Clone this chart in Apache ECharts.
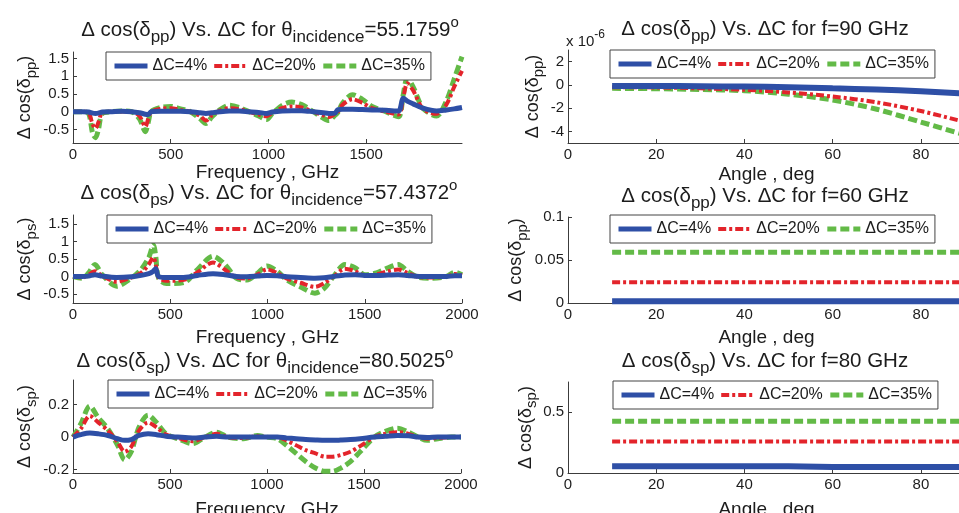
<!DOCTYPE html>
<html>
<head>
<meta charset="utf-8">
<script src="https://cdn.jsdelivr.net/npm/echarts@6/dist/echarts.min.js"></script>
<style>
html, body { margin: 0; background: #fff; }
#chart { width: 959px; height: 513px; }
</style>
</head>
<body>
<div id="chart"></div>
<script>
var legendNames = ['ΔC=4%', 'ΔC=20%', 'ΔC=35%'];

// left column: sweeps over frequency (GHz)
var freqPp = [0, 50, 80, 100, 115, 130, 150, 200, 250, 300, 340, 370, 385, 400, 450, 500, 550, 600, 650, 680,
    710, 750, 800, 850, 900, 950, 990, 1020, 1070, 1120, 1170, 1230, 1280, 1310, 1340, 1355, 1380, 1430, 1480, 1530,
    1600, 1665, 1690, 1710, 1740, 1790, 1860, 1910, 1950, 1990];
var ppC4 = [0, 0, -0.01, -0.04, -0.05, -0.04, -0.01, 0, 0.01, 0, -0.03, -0.07, -0.08, 0, 0.01, 0.01, 0.01, 0, -0.03, -0.05,
    -0.03, 0, 0.02, 0.02, 0, -0.02, -0.05, -0.01, 0.02, 0.03, 0.03, 0, -0.03, -0.05, -0.04, 0.06, 0.07, 0.07, 0.06, 0.05,
    0.04, 0.02, 0.38, 0.3, 0.22, 0.1, 0.02, 0.05, 0.08, 0.12];
var ppC20 = [0, 0, -0.03, -0.35, -0.47, -0.3, -0.03, 0, 0.01, 0, -0.12, -0.42, -0.2, 0, 0.08, 0.1, 0.05, 0, -0.12, -0.25,
    -0.1, 0.03, 0.1, 0.07, 0, -0.08, -0.13, -0.03, 0.1, 0.15, 0.12, 0, -0.1, -0.15, -0.06, 0, 0.2, 0.35, 0.25, 0.1,
    0, -0.08, 0.4, 0.8, 0.6, 0.08, -0.06, 0.2, 0.7, 1.15];
var ppC35 = [0, 0, -0.05, -0.6, -0.73, -0.5, -0.05, 0, 0.02, 0, -0.2, -0.56, -0.3, 0, 0.12, 0.15, 0.08, 0, -0.2, -0.33,
    -0.15, 0.05, 0.18, 0.12, 0, -0.12, -0.22, -0.05, 0.18, 0.27, 0.2, 0, -0.18, -0.25, -0.1, -0.02, 0.25, 0.48, 0.35, 0.15,
    0, -0.14, 0.5, 0.95, 0.7, 0.1, -0.12, 0.3, 0.92, 1.55];

var freqPs = [0, 50, 80, 113, 150, 225, 300, 350, 390, 413, 425, 440, 480, 515, 580, 640, 720, 780, 840, 894,
    950, 997, 1050, 1100, 1170, 1244, 1290, 1340, 1398, 1450, 1500, 1560, 1620, 1672, 1720, 1780, 1850, 1920, 1963, 2000];
var psC4 = [0, 0, 0.01, 0.05, 0.01, -0.03, -0.01, 0.03, 0.08, 0.15, 0.22, 0, -0.03, -0.03, -0.02, 0.03, 0.08, 0.05, 0, -0.01,
    0.01, 0.03, 0.02, -0.01, -0.03, -0.05, -0.04, 0, 0.04, 0.05, 0.03, 0.03, 0.04, 0.05, 0.03, 0, 0, 0, 0.02, 0.02];
var psC20 = [0, -0.03, 0.05, 0.15, 0.02, -0.15, -0.03, 0.1, 0.35, 0.55, 0.35, -0.03, -0.12, -0.12, -0.08, 0.12, 0.4, 0.2, -0.03, -0.06,
    0.06, 0.2, 0.1, -0.06, -0.18, -0.3, -0.2, 0, 0.22, 0.15, 0.03, 0.06, 0.15, 0.2, 0.1, -0.02, -0.03, 0, 0.07, 0.03];
var psC35 = [0, -0.05, 0.1, 0.34, 0.05, -0.28, -0.05, 0.2, 0.55, 0.9, 0.6, -0.05, -0.2, -0.2, -0.15, 0.2, 0.58, 0.35, -0.05, -0.1,
    0.1, 0.3, 0.15, -0.1, -0.3, -0.48, -0.35, 0, 0.34, 0.25, 0.05, 0.1, 0.25, 0.34, 0.15, -0.03, -0.05, 0, 0.12, 0.05];

var freqSp = [0, 40, 87, 130, 180, 230, 267, 300, 340, 387, 430, 480, 540, 617, 680, 740, 800, 880, 950, 1000,
    1054, 1100, 1150, 1200, 1250, 1300, 1337, 1380, 1430, 1480, 1553, 1610, 1672, 1730, 1780, 1826, 1880, 1950, 2000];
var spC4 = [0, 0.015, 0.025, 0.02, 0.01, -0.01, -0.02, -0.015, 0.01, 0.02, 0.015, 0.005, 0, -0.005, 0, 0.005, 0, 0, 0, 0,
    0, -0.005, -0.01, -0.015, -0.018, -0.02, -0.02, -0.018, -0.015, -0.01, 0, 0.005, 0.01, 0.008, 0, -0.003, 0, 0, 0];
var spC20 = [0, 0.05, 0.13, 0.09, 0.04, -0.03, -0.09, -0.06, 0.04, 0.09, 0.06, 0.015, -0.005, -0.025, 0, 0.02, 0, -0.005, 0.005, 0,
    0, -0.02, -0.05, -0.08, -0.1, -0.12, -0.12, -0.11, -0.09, -0.055, 0, 0.02, 0.03, 0.02, 0, -0.01, -0.005, 0, 0];
var spC35 = [0, 0.08, 0.19, 0.12, 0.05, -0.05, -0.14, -0.09, 0.06, 0.135, 0.09, 0.02, -0.01, -0.04, 0, 0.03, 0, -0.01, 0.01, 0,
    -0.01, -0.05, -0.1, -0.15, -0.19, -0.21, -0.21, -0.19, -0.15, -0.09, 0, 0.035, 0.055, 0.03, 0, -0.02, -0.01, 0, 0];

// right column: sweeps over angle (deg)
var angles = [10, 20, 30, 40, 50, 60, 70, 80, 90];
// f = 90 GHz, values in units of 1e-6
var f90C4 = [-0.1, -0.1, -0.12, -0.15, -0.2, -0.3, -0.4, -0.55, -0.75];
var f90C20 = [-0.2, -0.22, -0.3, -0.42, -0.65, -1.0, -1.5, -2.25, -3.2];
var f90C35 = [-0.3, -0.33, -0.4, -0.5, -0.8, -1.3, -2.1, -3.2, -4.3];
// f = 60 GHz
var f60C4 = [0.002, 0.002, 0.002, 0.002, 0.002, 0.002, 0.002, 0.002, 0.002];
var f60C20 = [0.024, 0.024, 0.024, 0.024, 0.024, 0.024, 0.024, 0.024, 0.024];
var f60C35 = [0.059, 0.059, 0.059, 0.059, 0.059, 0.059, 0.059, 0.059, 0.059];
// f = 80 GHz
var f80C4 = [0.055, 0.055, 0.055, 0.055, 0.055, 0.05, 0.05, 0.05, 0.05];
var f80C20 = [0.26, 0.26, 0.26, 0.26, 0.26, 0.26, 0.26, 0.26, 0.26];
var f80C35 = [0.426, 0.426, 0.426, 0.426, 0.426, 0.426, 0.426, 0.426, 0.426];

// tick labels
var freqTicks = [0, 500, 1000, 1500, 2000];
var freqTicksTop = [0, 500, 1000, 1500];
var angleTicks = [0, 20, 40, 60, 80];
var ppTicks = [-0.5, 0, 0.5, 1, 1.5];
var spTicks = [-0.2, 0, 0.2];
var f90Ticks = [-4, -2, 0, 2];
var f60Ticks = [0, 0.05, 0.1];
var f80Ticks = [0, 0.5];

var font = 'Liberation Sans, Arial, sans-serif';
var ink = '#1c1c1c';
var axisColor = '#3c3c3c';
var blue = '#2e4fa6', red = '#e3242b', green = '#63ba47';
var greenDash = [9, 4], redDash = [8, 3, 3, 3];

var panels = [
    {grid: {left: 73, top: 52, width: 389, height: 91}, xMin: 0, xMax: 1990, yMin: -0.88, yMax: 1.68,
        xTicks: freqTicksTop, yTicks: ppTicks, xName: 'Frequency , GHz', sub: 'pp', xGap: 20, yGap: 34,
        x: freqPp, lines: [ppC4, ppC20, ppC35], legend: [106, 52], blueWidth: 5, smooth: 0.3},
    {grid: {left: 73, top: 215, width: 389, height: 88}, xMin: 0, xMax: 2000, yMin: -0.76, yMax: 1.76,
        xTicks: freqTicks, yTicks: ppTicks, xName: 'Frequency , GHz', sub: 'ps', xGap: 25, yGap: 34,
        x: freqPs, lines: [psC4, psC20, psC35], legend: [107, 215], blueWidth: 5, smooth: 0.3},
    {grid: {left: 73, top: 380, width: 388, height: 93}, xMin: 0, xMax: 2000, yMin: -0.22, yMax: 0.35,
        xTicks: freqTicks, yTicks: spTicks, xName: 'Frequency , GHz', sub: 'sp', xGap: 27, yGap: 34,
        x: freqSp, lines: [spC4, spC20, spC35], legend: [108, 380], blueWidth: 5, smooth: 0.3},
    {grid: {left: 568, top: 50, width: 397, height: 93}, xMin: 0, xMax: 90, yMin: -5, yMax: 3,
        xTicks: angleTicks, yTicks: f90Ticks, xName: 'Angle , deg', sub: 'pp', xGap: 22, yGap: 20,
        x: angles, lines: [f90C4, f90C20, f90C35], legend: [610, 50], blueWidth: 6, smooth: 0.3},
    {grid: {left: 568, top: 217, width: 397, height: 86}, xMin: 0, xMax: 90, yMin: 0, yMax: 0.1,
        xTicks: angleTicks, yTicks: f60Ticks, xName: 'Angle , deg', sub: 'pp', xGap: 25, yGap: 38,
        x: angles, lines: [f60C4, f60C20, f60C35], legend: [610, 215], blueWidth: 6, smooth: false},
    {grid: {left: 568, top: 382, width: 397, height: 91}, xMin: 0, xMax: 90, yMin: 0, yMax: 0.75,
        xTicks: angleTicks, yTicks: f80Ticks, xName: 'Angle , deg', sub: 'sp', xGap: 27, yGap: 28,
        x: angles, lines: [f80C4, f80C20, f80C35], legend: [613, 381], blueWidth: 6, smooth: false}
];

var titles = [
    {x: 270, y: 30, text: '{t|Δ cos(δ}{sub|pp}{t|) Vs. ΔC for θ}{sub|incidence}{t|=55.1759}{sup|o}'},
    {x: 269, y: 193, text: '{t|Δ cos(δ}{sub|ps}{t|) Vs. ΔC for θ}{sub|incidence}{t|=57.4372}{sup|o}'},
    {x: 265, y: 361, text: '{t|Δ cos(δ}{sub|sp}{t|) Vs. ΔC for θ}{sub|incidence}{t|=80.5025}{sup|o}'},
    {x: 765, y: 29, text: '{t|Δ cos(δ}{sub|pp}{t|) Vs. ΔC for f=90 GHz}'},
    {x: 765, y: 196, text: '{t|Δ cos(δ}{sub|pp}{t|) Vs. ΔC for f=60 GHz}'},
    {x: 765, y: 361, text: '{t|Δ cos(δ}{sub|sp}{t|) Vs. ΔC for f=80 GHz}'}
];

var zrRich = {
    t: {fontSize: 20.5, fontFamily: font, fill: ink},
    sub: {fontSize: 17, fontFamily: font, fill: ink, padding: [14, 0, 0, 0]},
    sup: {fontSize: 15, fontFamily: font, fill: ink, padding: [0, 0, 15, 0]}
};
var nameRich = {
    t: {fontSize: 18, fontFamily: font, color: ink},
    sub: {fontSize: 15, fontFamily: font, color: ink, padding: [12, 0, 0, 0]}
};

function pairs(xs, ys) {
    return xs.map(function (x, i) { return [x, ys[i]]; });
}

function tickLabel(v) { return String(v); }

var option = {
    animation: false,
    backgroundColor: '#fff',
    textStyle: {fontFamily: font},
    grid: [], xAxis: [], yAxis: [], legend: [], series: [], graphic: []
};

panels.forEach(function (p, i) {
    var g = p.grid;
    g.outerBoundsMode = 'none';
    g.containLabel = false;
    option.grid.push(g);
    option.xAxis.push({
        type: 'value', gridIndex: i, min: p.xMin, max: p.xMax,
        axisLine: {show: true, onZero: false, lineStyle: {color: axisColor, width: 1}},
        axisTick: {show: true, inside: true, length: 4, customValues: p.xTicks, lineStyle: {color: axisColor}},
        axisLabel: {customValues: p.xTicks, formatter: tickLabel, fontSize: 15, color: ink, margin: 4},
        splitLine: {show: false},
        name: p.xName, nameLocation: 'middle', nameGap: p.xGap,
        nameTextStyle: {fontSize: 19, color: ink}
    });
    option.yAxis.push({
        type: 'value', gridIndex: i, min: p.yMin, max: p.yMax,
        axisLine: {show: true, onZero: false, lineStyle: {color: axisColor, width: 1}},
        axisTick: {show: true, inside: true, length: 4, customValues: p.yTicks, lineStyle: {color: axisColor}},
        axisLabel: {customValues: p.yTicks, formatter: tickLabel, fontSize: 15, color: ink, margin: 4},
        splitLine: {show: false},
        name: '{t|Δ cos(δ}{sub|' + p.sub + '}{t|)}', nameLocation: 'middle', nameGap: p.yGap, nameRotate: 90,
        nameTextStyle: {rich: nameRich}
    });
    option.legend.push({
        left: p.legend[0], top: p.legend[1], orient: 'horizontal',
        data: [
            {name: legendNames[0], lineStyle: {width: 5, color: blue, type: 'solid'}},
            {name: legendNames[1], lineStyle: {width: 4, color: red, type: redDash}},
            {name: legendNames[2], lineStyle: {width: 5, color: green, type: greenDash}}
        ],
        selectedMode: false, itemWidth: 33, itemHeight: 14, itemGap: 5, padding: [6, 6],
        backgroundColor: '#fff', borderColor: '#444', borderWidth: 1, borderRadius: 0,
        itemStyle: {opacity: 0},
        textStyle: {fontSize: 16, color: ink}
    });
    var styles = [
        {color: green, width: 5, type: greenDash, data: p.lines[2], name: legendNames[2], z: 2},
        {color: red, width: 4, type: redDash, data: p.lines[1], name: legendNames[1], z: 3},
        {color: blue, width: p.blueWidth, type: 'solid', data: p.lines[0], name: legendNames[0], z: 4}
    ];
    styles.forEach(function (s) {
        option.series.push({
            type: 'line', name: s.name, xAxisIndex: i, yAxisIndex: i, z: s.z,
            data: pairs(p.x, s.data), symbol: 'none', smooth: p.smooth,
            lineStyle: {color: s.color, width: s.width, type: s.type, cap: 'butt'},
            itemStyle: {color: s.color}
        });
    });
});

titles.forEach(function (t) {
    option.graphic.push({
        type: 'text', x: t.x, y: t.y, z: 10,
        style: {text: t.text, rich: zrRich, align: 'center', verticalAlign: 'middle', fontFamily: font, fontSize: 20, fill: ink}
    });
});

// exponent of the top right panel
option.graphic.push({
    type: 'text', x: 566, y: 42, z: 10,
    style: {
        text: '{t|x 10}{sup|-6}', align: 'left', verticalAlign: 'middle',
        rich: {
            t: {fontSize: 15, fontFamily: font, fill: ink},
            sup: {fontSize: 12, fontFamily: font, fill: ink, padding: [0, 0, 14, 0]}
        }
    }
});

var chart = echarts.init(document.getElementById('chart'));
chart.setOption(option);
</script>
</body>
</html>
